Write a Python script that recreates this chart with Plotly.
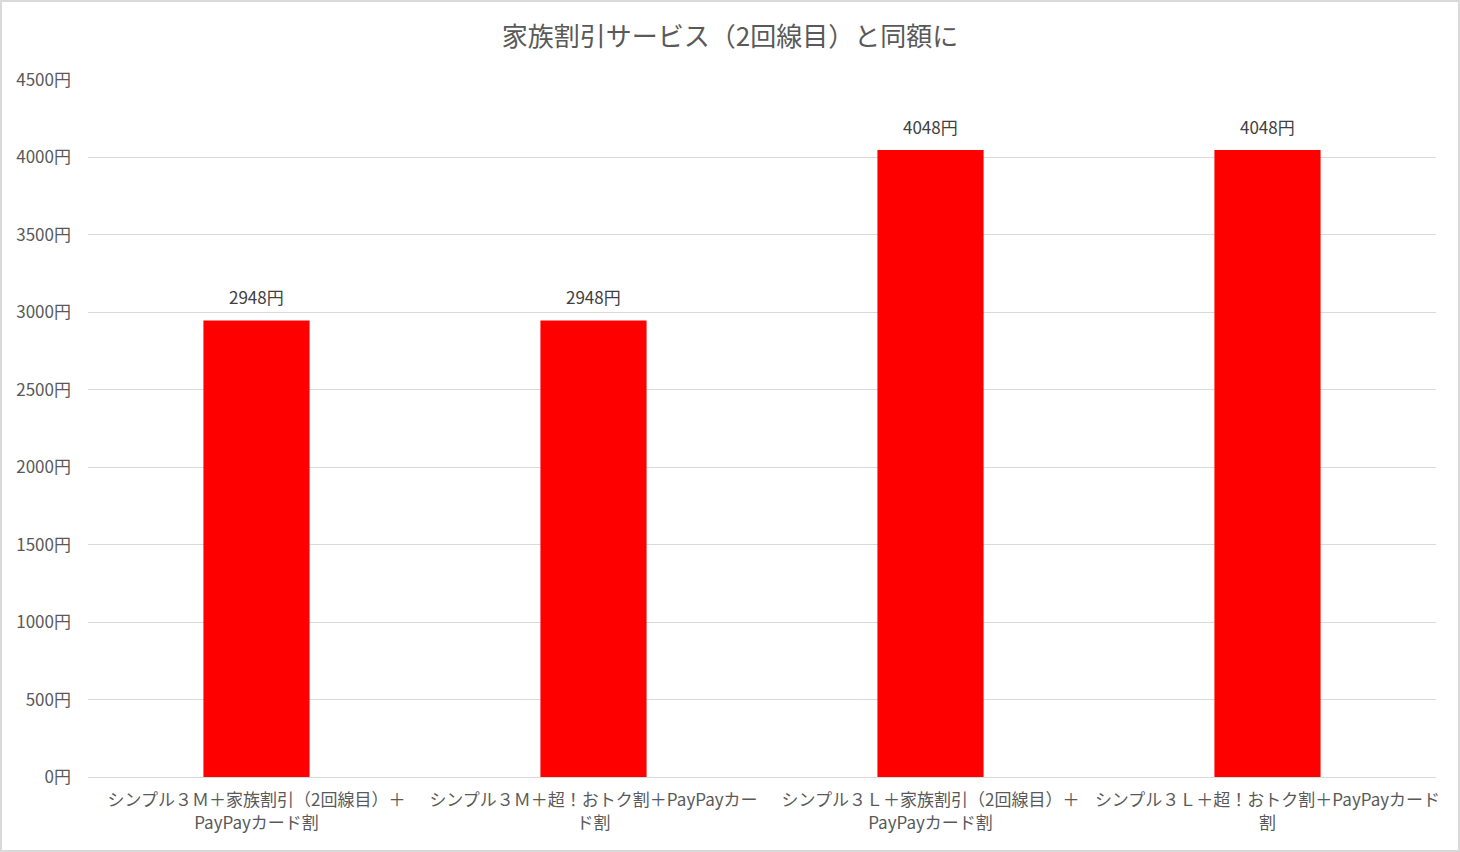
import plotly.graph_objects as go

categories = [
    "シンプル３Ｍ＋家族割引（2回線目）＋<br>PayPayカード割",
    "シンプル３Ｍ＋超！おトク割＋PayPayカー<br>ド割",
    "シンプル３Ｌ＋家族割引（2回線目）＋<br>PayPayカード割",
    "シンプル３Ｌ＋超！おトク割＋PayPayカード<br>割",
]
values = [2948, 2948, 4048, 4048]
value_labels = [f"{v}円" for v in values]
title_text = "家族割引サービス（2回線目）と同額に"

FONT = "Noto Sans CJK JP"

fig = go.Figure(
    go.Bar(
        x=categories,
        y=values,
        marker=dict(color="#FF0000", line=dict(width=0)),
        hoverinfo="x+y",
    )
)

for c, v, t in zip(categories, values, value_labels):
    fig.add_annotation(
        x=c, y=v, xref="x", yref="y",
        text=t, showarrow=False,
        yanchor="bottom", yshift=9,
        font=dict(family=FONT, size=17, color="#404040"),
    )

fig.update_layout(
    width=1460,
    height=852,
    paper_bgcolor="white",
    plot_bgcolor="white",
    margin=dict(l=88, r=24, t=80, b=75),
    bargap=0.685,
    showlegend=False,
    font=dict(family=FONT, color="#595959"),
    title=dict(
        text=title_text,
        x=0.5,
        xanchor="center",
        y=1 - 37 / 852,
        yanchor="middle",
        font=dict(family=FONT, size=26, color="#595959"),
    ),
)

fig.update_yaxes(
    range=[0, 4500],
    dtick=500,
    tick0=0,
    ticksuffix="円",
    showgrid=True,
    gridcolor="#D9D9D9",
    gridwidth=1,
    zeroline=False,
    showline=False,
    tickfont=dict(family=FONT, size=17, color="#595959"),
    ticklabelstandoff=16,
)

fig.update_xaxes(
    showgrid=False,
    showline=True,
    linecolor="#D9D9D9",
    linewidth=1,
    tickfont=dict(family=FONT, size=17, color="#595959"),
    tickangle=0,
    ticks="",
    ticklabelstandoff=8,
)

fig.add_shape(
    type="rect",
    xref="paper", yref="paper",
    x0=-87 / 1348, x1=1 + 23 / 1348,
    y0=-74 / 697, y1=1 + 79 / 697,
    line=dict(color="#D9D9D9", width=2),
    fillcolor="rgba(0,0,0,0)",
    layer="below",
)

fig.write_html(
    "out.html",
    config={"displayModeBar": False},
    post_script="document.body.style.margin='0';document.body.style.padding='0';",
)
